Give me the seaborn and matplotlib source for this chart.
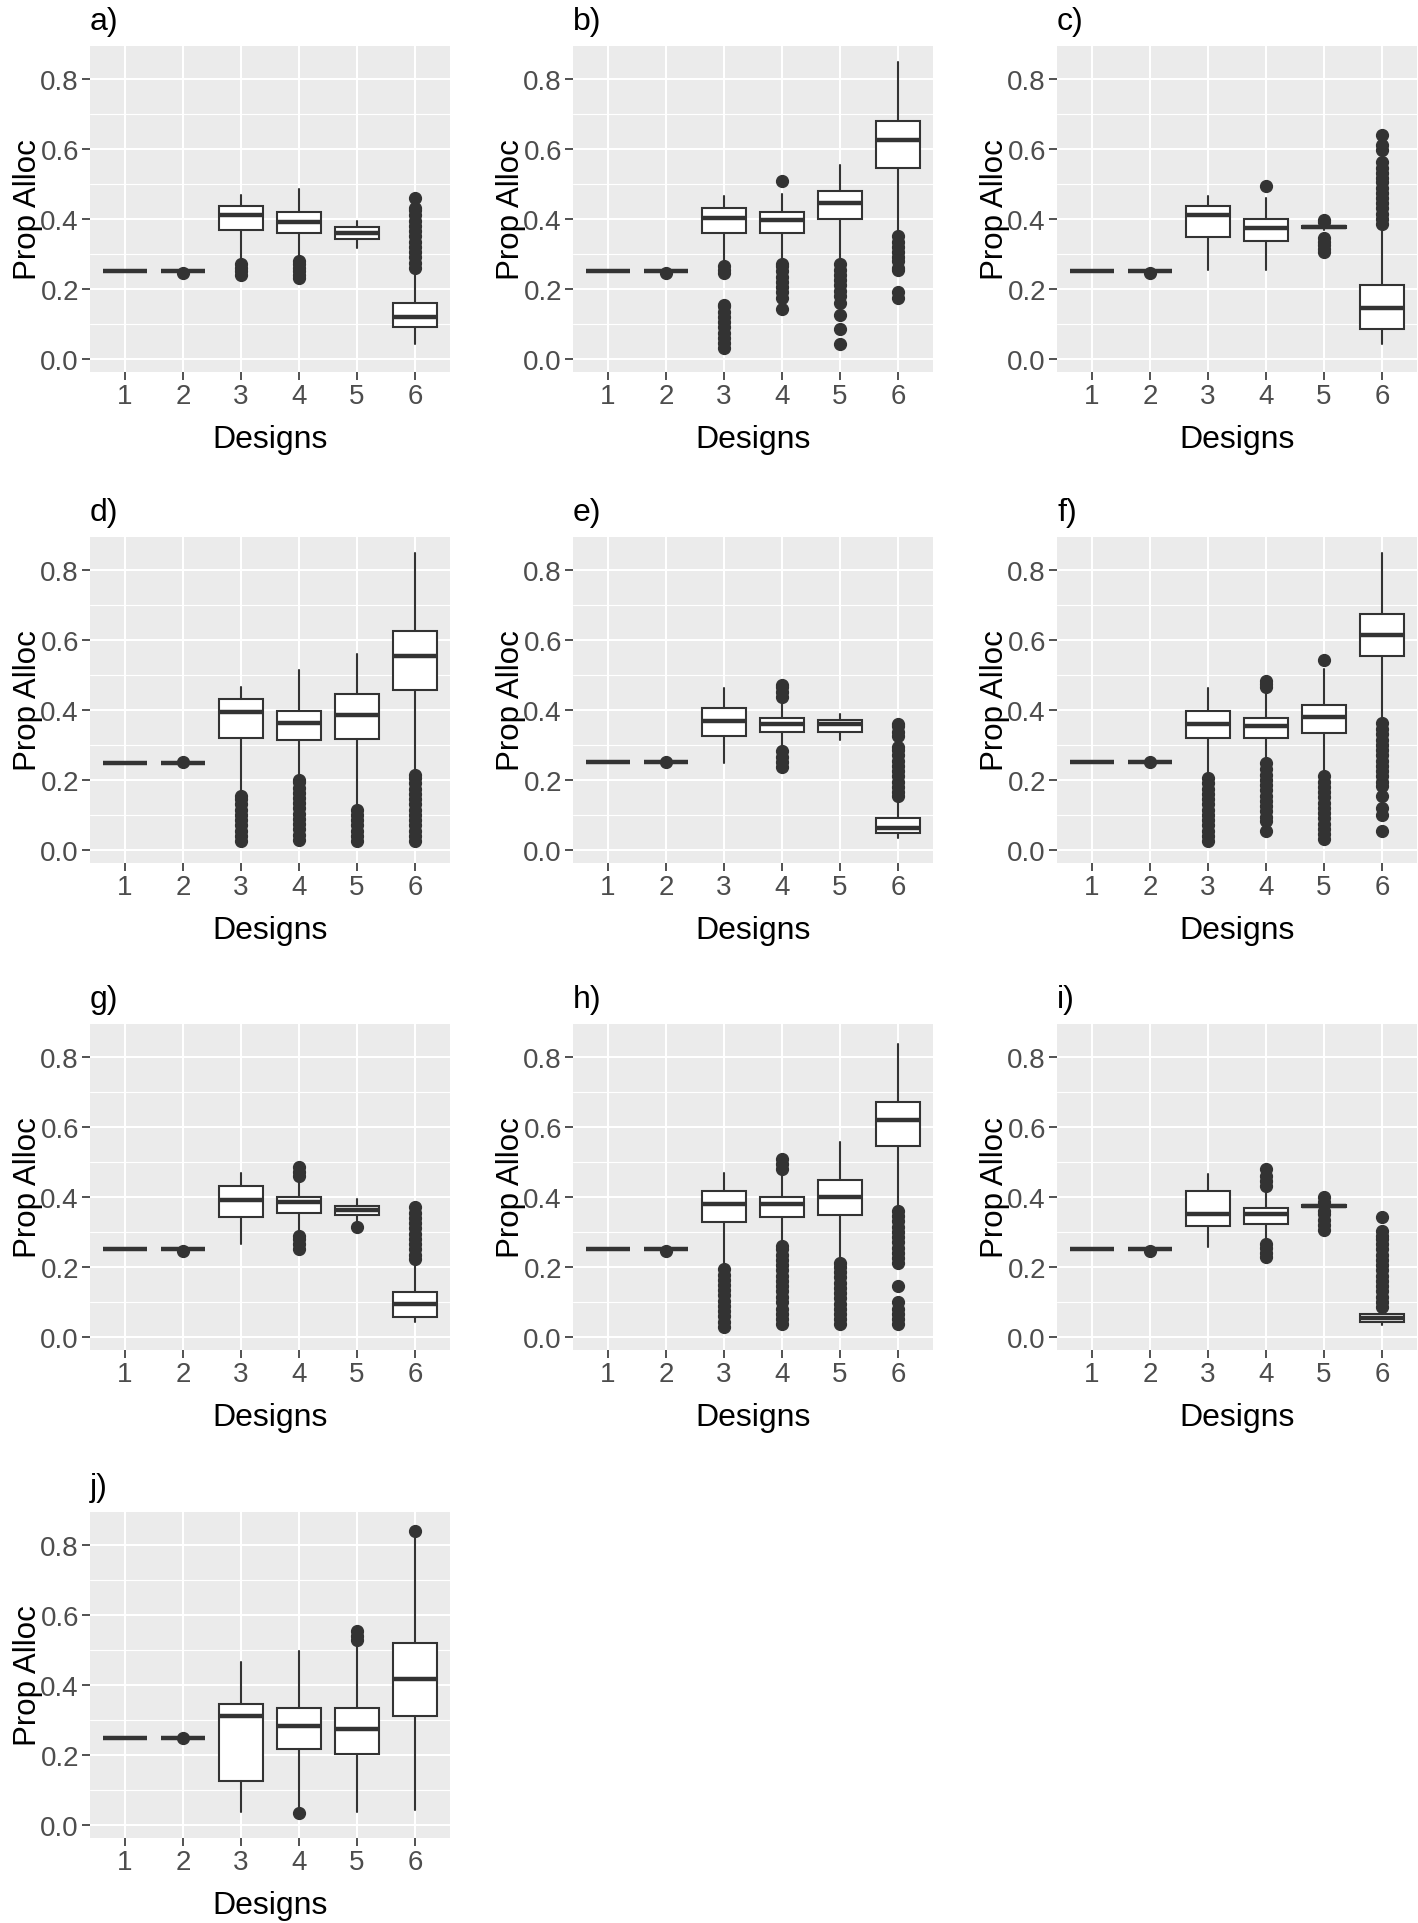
import numpy as np
import matplotlib
matplotlib.use("Agg")
import matplotlib.pyplot as plt
from matplotlib.ticker import MultipleLocator
import seaborn as sns

# panel labels and designs
panels = ["a)", "b)", "c)", "d)", "e)", "f)", "g)", "h)", "i)", "j)"]
designs = [1, 2, 3, 4, 5, 6]

# box summaries, one row per panel, one value per design
q1 = [
    [0.25, 0.25, 0.367, 0.361, 0.343, 0.090],
    [0.25, 0.25, 0.361, 0.361, 0.400, 0.545],
    [0.25, 0.25, 0.349, 0.336, 0.374, 0.086],
    [0.249, 0.249, 0.321, 0.314, 0.316, 0.457],
    [0.25, 0.25, 0.326, 0.338, 0.338, 0.047],
    [0.25, 0.25, 0.321, 0.321, 0.333, 0.553],
    [0.25, 0.25, 0.342, 0.353, 0.347, 0.057],
    [0.25, 0.25, 0.329, 0.342, 0.347, 0.545],
    [0.25, 0.25, 0.318, 0.323, 0.370, 0.041],
    [0.248, 0.248, 0.124, 0.216, 0.203, 0.310],
]
med = [
    [0.25, 0.25, 0.410, 0.391, 0.361, 0.119],
    [0.25, 0.25, 0.402, 0.398, 0.445, 0.626],
    [0.25, 0.25, 0.410, 0.374, 0.377, 0.144],
    [0.249, 0.249, 0.393, 0.362, 0.386, 0.554],
    [0.25, 0.25, 0.369, 0.361, 0.361, 0.062],
    [0.25, 0.25, 0.361, 0.354, 0.381, 0.615],
    [0.25, 0.25, 0.392, 0.385, 0.364, 0.095],
    [0.25, 0.25, 0.380, 0.380, 0.401, 0.619],
    [0.25, 0.25, 0.351, 0.351, 0.373, 0.053],
    [0.248, 0.248, 0.311, 0.282, 0.275, 0.417],
]
q3 = [
    [0.25, 0.25, 0.436, 0.419, 0.376, 0.160],
    [0.25, 0.25, 0.431, 0.419, 0.480, 0.680],
    [0.25, 0.25, 0.436, 0.400, 0.380, 0.210],
    [0.249, 0.249, 0.431, 0.396, 0.446, 0.625],
    [0.25, 0.25, 0.407, 0.377, 0.372, 0.091],
    [0.25, 0.25, 0.396, 0.377, 0.414, 0.674],
    [0.25, 0.25, 0.430, 0.399, 0.375, 0.127],
    [0.25, 0.25, 0.418, 0.399, 0.449, 0.671],
    [0.25, 0.25, 0.418, 0.368, 0.376, 0.065],
    [0.248, 0.248, 0.345, 0.334, 0.334, 0.521],
]
whis_lo = [
    [0.25, 0.25, 0.279, 0.293, 0.317, 0.041],
    [0.25, 0.25, 0.279, 0.283, 0.283, 0.360],
    [0.25, 0.25, 0.255, 0.255, 0.368, 0.041],
    [0.249, 0.249, 0.158, 0.201, 0.120, 0.220],
    [0.25, 0.25, 0.249, 0.292, 0.313, 0.034],
    [0.25, 0.25, 0.211, 0.254, 0.216, 0.371],
    [0.25, 0.25, 0.265, 0.299, 0.327, 0.041],
    [0.25, 0.25, 0.199, 0.265, 0.213, 0.368],
    [0.25, 0.25, 0.256, 0.275, 0.365, 0.033],
    [0.248, 0.248, 0.035, 0.040, 0.035, 0.042],
]
whis_hi = [
    [0.25, 0.25, 0.469, 0.486, 0.395, 0.255],
    [0.25, 0.25, 0.467, 0.471, 0.555, 0.849],
    [0.25, 0.25, 0.467, 0.460, 0.386, 0.379],
    [0.249, 0.249, 0.465, 0.514, 0.559, 0.850],
    [0.25, 0.25, 0.463, 0.426, 0.388, 0.149],
    [0.25, 0.25, 0.463, 0.446, 0.517, 0.850],
    [0.25, 0.25, 0.469, 0.442, 0.394, 0.218],
    [0.25, 0.25, 0.469, 0.470, 0.557, 0.838],
    [0.25, 0.25, 0.466, 0.423, 0.380, 0.079],
    [0.248, 0.248, 0.465, 0.497, 0.524, 0.840],
]
# outlier points per panel and design
fliers = [
    [[], [0.245], [0.24, 0.25, 0.26, 0.27], [0.23, 0.24, 0.25, 0.26, 0.27, 0.28], [],
     [0.26, 0.275, 0.29, 0.305, 0.32, 0.335, 0.35, 0.365, 0.38, 0.395, 0.41, 0.425, 0.43, 0.461]],
    [[], [0.245],
     [0.245, 0.255, 0.265, 0.03, 0.045, 0.06, 0.075, 0.09, 0.105, 0.12, 0.135, 0.15, 0.155],
     [0.509, 0.175, 0.19, 0.205, 0.22, 0.235, 0.25, 0.265, 0.27, 0.141],
     [0.18, 0.195, 0.21, 0.225, 0.24, 0.255, 0.27, 0.16, 0.125, 0.085, 0.042],
     [0.279, 0.29, 0.305, 0.32, 0.335, 0.35, 0.255, 0.26, 0.175, 0.19]],
    [[], [0.245], [], [0.493],
     [0.305, 0.315, 0.325, 0.335, 0.345, 0.39, 0.398],
     [0.385, 0.40, 0.415, 0.43, 0.445, 0.46, 0.475, 0.49, 0.505, 0.517, 0.531, 0.545, 0.564,
      0.597, 0.612, 0.640]],
    [[], [0.25],
     [0.025, 0.04, 0.055, 0.07, 0.085, 0.1, 0.115, 0.13, 0.145, 0.155],
     [0.028, 0.043, 0.058, 0.073, 0.088, 0.103, 0.118, 0.133, 0.148, 0.163, 0.178, 0.193, 0.2],
     [0.025, 0.04, 0.055, 0.07, 0.085, 0.1, 0.115],
     [0.025, 0.04, 0.055, 0.07, 0.085, 0.1, 0.115, 0.13, 0.145, 0.16, 0.175, 0.19, 0.205, 0.215]],
    [[], [0.25], [],
     [0.436, 0.45, 0.465, 0.472, 0.237, 0.25, 0.265, 0.283], [],
     [0.153, 0.165, 0.18, 0.195, 0.21, 0.225, 0.24, 0.255, 0.27, 0.285, 0.295, 0.326, 0.336,
      0.355, 0.361]],
    [[], [0.25],
     [0.025, 0.04, 0.055, 0.07, 0.085, 0.1, 0.115, 0.13, 0.145, 0.16, 0.175, 0.19, 0.205],
     [0.465, 0.475, 0.484, 0.081, 0.095, 0.11, 0.125, 0.14, 0.155, 0.17, 0.185, 0.2, 0.215,
      0.23, 0.249, 0.053],
     [0.544, 0.03, 0.045, 0.06, 0.075, 0.09, 0.105, 0.12, 0.135, 0.15, 0.165, 0.18, 0.195, 0.21],
     [0.182, 0.195, 0.21, 0.225, 0.24, 0.255, 0.27, 0.285, 0.3, 0.315, 0.33, 0.345, 0.364,
      0.155, 0.12, 0.1, 0.053]],
    [[], [0.245], [],
     [0.461, 0.47, 0.485, 0.251, 0.265, 0.28, 0.289], [0.313],
     [0.222, 0.235, 0.25, 0.265, 0.28, 0.295, 0.31, 0.325, 0.34, 0.355, 0.37]],
    [[], [0.245],
     [0.028, 0.043, 0.058, 0.073, 0.088, 0.103, 0.118, 0.133, 0.148, 0.163, 0.178, 0.195],
     [0.48, 0.495, 0.509, 0.1, 0.115, 0.13, 0.145, 0.16, 0.175, 0.19, 0.205, 0.22, 0.235,
      0.25, 0.26, 0.035, 0.05, 0.065, 0.08],
     [0.035, 0.05, 0.065, 0.08, 0.095, 0.11, 0.125, 0.14, 0.155, 0.17, 0.185, 0.2, 0.21],
     [0.21, 0.225, 0.24, 0.255, 0.27, 0.285, 0.3, 0.315, 0.33, 0.345, 0.36, 0.146, 0.098,
      0.035, 0.05, 0.065, 0.08]],
    [[], [0.245], [],
     [0.432, 0.445, 0.46, 0.48, 0.227, 0.24, 0.255, 0.265],
     [0.305, 0.32, 0.335, 0.35, 0.36, 0.385, 0.40],
     [0.084, 0.1, 0.115, 0.13, 0.145, 0.16, 0.175, 0.19, 0.205, 0.22, 0.235, 0.25, 0.265,
      0.28, 0.289, 0.304, 0.342]],
    [[], [0.248], [], [0.033], [0.529, 0.54, 0.553], [0.842]],
]

W, H = 1418, 1924
col_left = [90, 573, 1057]
row_top = [47, 538, 1025, 1513]
pw, ph = 360, 326

sns.set_theme(style="darkgrid", rc={"axes.facecolor": "#EBEBEB", "grid.color": "white"})
plt.rcParams["font.family"] = ["Liberation Sans", "DejaVu Sans"]

fig = plt.figure(figsize=(W / 100, H / 100), dpi=100)
fig.patch.set_facecolor("white")

ink = "#333333"
for k, lab in enumerate(panels):
    r, c = divmod(k, 3)
    ax = fig.add_axes([col_left[c] / W, 1 - (row_top[r] + ph) / H, pw / W, ph / H])
    stats = []
    for d in range(6):
        stats.append(dict(q1=q1[k][d], med=med[k][d], q3=q3[k][d],
                          whislo=whis_lo[k][d], whishi=whis_hi[k][d],
                          fliers=np.array(fliers[k][d])))
    ax.bxp(stats, positions=designs, widths=0.75, patch_artist=True, showcaps=False,
           boxprops=dict(facecolor="white", edgecolor=ink, linewidth=1.5),
           medianprops=dict(color=ink, linewidth=3.2, solid_capstyle="butt"),
           whiskerprops=dict(color=ink, linewidth=1.5),
           flierprops=dict(marker="o", markerfacecolor=ink, markeredgecolor=ink,
                           markersize=8.5, linestyle="none"))
    ax.set_xlim(0.4, 6.6)
    ax.set_ylim(-0.038, 0.895)
    ax.set_xticks(designs)
    ax.set_xticklabels([str(d) for d in designs])
    ax.set_yticks([0.0, 0.2, 0.4, 0.6, 0.8])
    ax.set_yticklabels(["0.0", "0.2", "0.4", "0.6", "0.8"])
    ax.yaxis.set_minor_locator(MultipleLocator(0.1))
    ax.set_axisbelow(True)
    ax.grid(which="major", color="white", linewidth=1.5)
    ax.grid(which="minor", axis="y", color="white", linewidth=0.8)
    ax.grid(which="minor", axis="x", visible=False)
    for s in ax.spines.values():
        s.set_visible(False)
    ax.tick_params(axis="both", which="major", length=5.5, width=1.2, color=ink,
                   labelsize=20, labelcolor="#4D4D4D", pad=2.5, left=True, bottom=True)
    ax.tick_params(axis="y", which="minor", length=0)
    ax.set_xlabel("Designs", fontsize=23, color="black")
    ax.set_ylabel("Prop Alloc", fontsize=22.5, color="black")
    ax.xaxis.set_label_coords(0.5, -0.16)
    ax.yaxis.set_label_coords(-0.13, 0.5)
    ax.set_title(lab, loc="left", fontsize=23, color="black", pad=12)

fig.savefig("out.png", dpi=100, facecolor="white")
